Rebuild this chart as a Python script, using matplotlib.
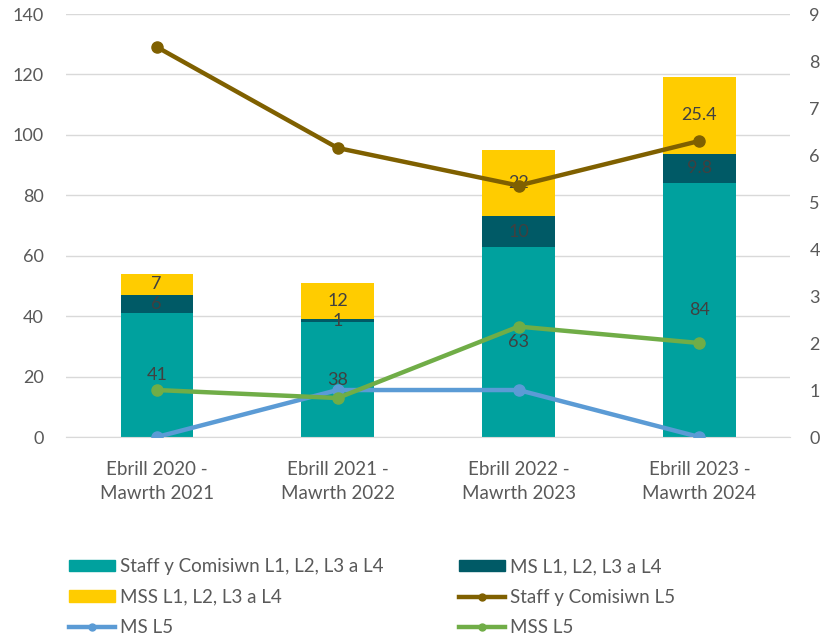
import numpy as np
import matplotlib.pyplot as plt
from matplotlib.lines import Line2D
from matplotlib.patches import Patch

plt.rcParams['font.family'] = ['Lato', 'DejaVu Sans']

# categories and series
periods = ['Ebrill 2020 -\nMawrth 2021', 'Ebrill 2021 -\nMawrth 2022',
           'Ebrill 2022 -\nMawrth 2023', 'Ebrill 2023 -\nMawrth 2024']
staff_l14 = [41, 38, 63, 84]
ms_l14 = [6, 1, 10, 9.8]
mss_l14 = [7, 12, 22, 25.4]
staff_l5 = [8.3, 6.15, 5.35, 6.3]
ms_l5 = [0, 1, 1, 0]
mss_l5 = [1.0, 0.83, 2.35, 2.0]

c_teal = '#00A19E'
c_dark = '#005A66'
c_yellow = '#FFCC00'
c_brown = '#7F6000'
c_blue = '#5B9BD5'
c_green = '#70AD47'
txt = '#404040'
tick_c = '#595959'

fig = plt.figure(figsize=(8.28, 6.38), dpi=100)
ax = fig.add_axes([0.08, 0.315, 0.874, 0.663])
ax2 = ax.twinx()

x = np.arange(len(periods))
w = 0.4
b1 = ax.bar(x, staff_l14, w, color=c_teal, zorder=2)
b2 = ax.bar(x, ms_l14, w, bottom=staff_l14, color=c_dark, zorder=2)
bottom3 = np.array(staff_l14) + np.array(ms_l14)
b3 = ax.bar(x, mss_l14, w, bottom=bottom3, color=c_yellow, zorder=2)

def fmt(v):
    return ('%g' % v)

# data labels in the middle of each segment
for vals, bots in [(staff_l14, np.zeros(4)), (ms_l14, staff_l14),
                   (mss_l14, bottom3)]:
    for xi, v, bo in zip(x, vals, bots):
        ax.text(xi, bo + v / 2, fmt(v), ha='center', va='center',
                fontsize=13, color=txt, zorder=3)

ax.set_ylim(0, 140)
ax.set_yticks(range(0, 141, 20))
ax.set_xlim(-0.5, 3.5)
ax.set_xticks(x)
ax.set_xticklabels(periods, fontsize=13.5, color=tick_c, linespacing=1.5)
ax.grid(axis='y', color='#D9D9D9', linewidth=1, zorder=0)
ax.set_axisbelow(True)

ax2.plot(x, staff_l5, color=c_brown, lw=3.2, marker='o', ms=8, zorder=4)
ax2.plot(x, ms_l5, color=c_blue, lw=3.2, marker='o', ms=8, zorder=4)
ax2.plot(x, mss_l5, color=c_green, lw=3.2, marker='o', ms=8, zorder=4)
ax2.set_ylim(0, 9)
ax2.set_yticks(range(0, 10))

for a in (ax, ax2):
    for s in a.spines.values():
        s.set_visible(False)
    a.tick_params(length=0, labelsize=13, labelcolor=tick_c)
ax.tick_params(axis='y', pad=16)
ax2.tick_params(axis='y', pad=14)
ax.tick_params(axis='x', pad=17, labelsize=13.5)
ax.spines['bottom'].set_visible(True)
ax.spines['bottom'].set_color('#D9D9D9')

handles = [
    Patch(color=c_teal), Patch(color=c_yellow),
    Line2D([], [], color=c_blue, lw=3.2, marker='o', ms=5),
    Patch(color=c_dark),
    Line2D([], [], color=c_brown, lw=3.2, marker='o', ms=5),
    Line2D([], [], color=c_green, lw=3.2, marker='o', ms=5),
]
labels = ['Staff y Comisiwn L1, L2, L3 a L4', 'MSS L1, L2, L3 a L4', 'MS L5',
          'MS L1, L2, L3 a L4', 'Staff y Comisiwn L5', 'MSS L5']
fig.legend(handles, labels, ncol=2, loc='upper left', bbox_to_anchor=(0.083, 0.125),
           frameon=False, fontsize=13.5, labelcolor=tick_c, handlelength=2.45,
           handleheight=0.55, handletextpad=0.3, columnspacing=4.0,
           labelspacing=0.72, borderaxespad=0, borderpad=0)

fig.savefig('out.png', dpi=100)
